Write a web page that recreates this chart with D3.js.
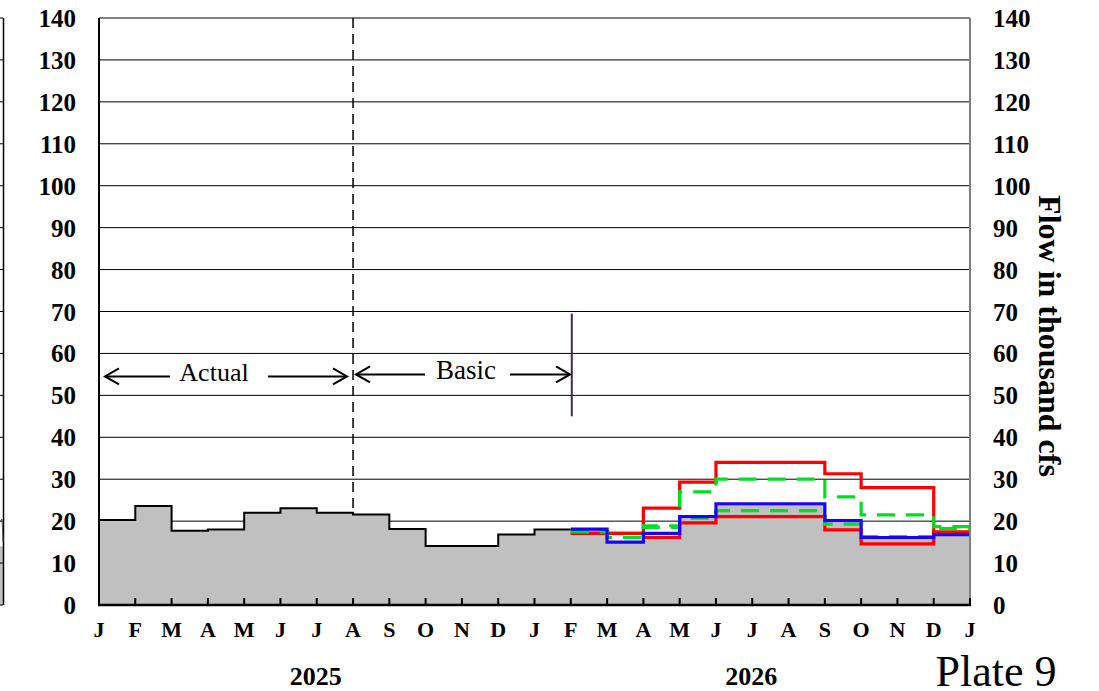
<!DOCTYPE html>
<html>
<head>
<meta charset="utf-8">
<script src="https://cdn.jsdelivr.net/npm/d3@7"></script>
<style>
	body { margin: 0; background: #fff; }
	svg text { font-family: "Liberation Serif", "Times New Roman", serif; }
</style>
</head>
<body>
<div id="chart"></div>
<script>

// month ticks, Jan 2025 .. Jan 2027
var months = ["J","F","M","A","M","J","J","A","S","O","N","D","J","F","M","A","M","J","J","A","S","O","N","D","J"];
var yTicks = [0,10,20,30,40,50,60,70,80,90,100,110,120,130,140];
var years = [{name:"2025", at:6}, {name:"2026", at:18}];

// actual + basic, Jan 2025 .. Jan 2026 (black line)
var actual = [20.3,23.6,17.7,18.0,22.0,23.1,22.0,21.6,18.1,14.1,14.1,16.8,18.0];
// shaded area, Jan 2025 .. Dec 2026
var shaded = [20.3,23.6,17.7,18.0,22.0,23.1,22.0,21.6,18.1,14.1,14.1,16.8,18.0,
	18.0,15.2,16.6,20.6,23.6,23.6,23.6,19.6,16.0,16.0,16.8];
// forecasts, Feb 2026 .. Dec 2026
var redHigh = [17.1,17.1,23.1,29.3,34.0,34.0,34.0,31.3,28.0,28.0,17.4];
var redLow = [17.1,17.1,16.1,19.6,21.1,21.1,21.1,17.9,14.6,14.6,17.4];
var greenHigh = [17.5,16.1,18.5,27.0,30.0,30.0,30.0,25.8,21.5,21.5,18.7];
var greenLow = [17.5,16.1,18.9,20.7,22.5,22.5,22.5,19.3,16.3,16.3,18.2];
var blue = [18.1,15.0,17.1,21.1,24.1,24.1,24.1,20.1,16.1,16.1,16.8];

var w = 1099, h = 691;
var pLeft = 99, pRight = 970, pTop = 18, pBottom = 605;

var svg = d3.select("#chart").append("svg")
	.attr("width", w)
	.attr("height", h);

var x = d3.scaleLinear().domain([0, 24]).range([pLeft, pRight]);
var y = d3.scaleLinear().domain([0, 140]).range([pBottom, pTop]);

// step points, with an extra point so the last month is drawn
function steps(vals, start){
	var pts = vals.map(function(v, i){ return [start + i, v]; });
	pts.push([start + vals.length, vals[vals.length - 1]]);
	return pts;
}

// piece of the neighbouring chart at the left edge
var frag = svg.append("g");
frag.append("rect").attr("x", 0).attr("y", y(14)).attr("width", 3).attr("height", pBottom - y(14)).attr("fill", "#c0c0c0");
frag.append("line").attr("x1", 3.5).attr("x2", 3.5).attr("y1", pTop).attr("y2", pBottom)
	.attr("stroke", "#000").attr("stroke-width", 1.5);
frag.selectAll("line.ft").data(yTicks).enter().append("line").attr("class", "ft")
	.attr("x1", 0).attr("x2", 3).attr("y1", function(d){ return y(d); }).attr("y2", function(d){ return y(d); })
	.attr("stroke", "#000");
frag.append("path").attr("d", "M0," + y(20) + " L2," + y(20.5) + " L3," + y(15))
	.attr("fill", "none").attr("stroke", "#555");

// gridlines
svg.selectAll("line.grid")
	.data(yTicks.filter(function(d){ return d > 0; }))
	.enter()
	.append("line")
	.attr("class", "grid")
	.attr("x1", pLeft).attr("x2", pRight)
	.attr("y1", function(d){ return y(d); })
	.attr("y2", function(d){ return y(d); })
	.attr("stroke", function(d){ return d == 140 ? "#808080" : "#000"; })
	.attr("stroke-width", function(d){ return d == 140 ? 2 : 1; });

// shaded area
svg.append("path")
	.datum(steps(shaded, 0))
	.attr("fill", "#c0c0c0")
	.attr("d", d3.area().curve(d3.curveStepAfter)
		.x(function(d){ return x(d[0]); })
		.y0(pBottom)
		.y1(function(d){ return y(d[1]); }));

var line = d3.line().curve(d3.curveStepAfter)
	.x(function(d){ return x(d[0]); })
	.y(function(d){ return y(d[1]); });

// actual / basic line
svg.append("path")
	.datum(steps(actual, 0))
	.attr("fill", "none")
	.attr("stroke", "#000")
	.attr("stroke-width", 2)
	.attr("d", line);

var series = [
	{vals: redHigh, color: "#ff0000", dash: null},
	{vals: redLow, color: "#ff0000", dash: null},
	{vals: greenHigh, color: "#00e020", dash: "18,11"},
	{vals: greenLow, color: "#00e020", dash: "18,11"},
	{vals: blue, color: "#1a00ff", dash: null}
];

svg.selectAll("path.fc")
	.data(series)
	.enter()
	.append("path")
	.attr("class", "fc")
	.attr("fill", "none")
	.attr("stroke", function(d){ return d.color; })
	.attr("stroke-width", 3.2)
	.attr("stroke-dasharray", function(d){ return d.dash; })
	.attr("d", function(d){ return line(steps(d.vals, 13)); });

// right border
svg.append("line").attr("x1", pRight).attr("x2", pRight).attr("y1", pTop).attr("y2", pBottom)
	.attr("stroke", "#808080").attr("stroke-width", 2);
// left axis
svg.append("line").attr("x1", pLeft).attr("x2", pLeft).attr("y1", pTop).attr("y2", pBottom)
	.attr("stroke", "#000").attr("stroke-width", 2);
// bottom axis with inside ticks
svg.append("line").attr("x1", pLeft - 1).attr("x2", pRight + 1).attr("y1", pBottom).attr("y2", pBottom)
	.attr("stroke", "#000").attr("stroke-width", 2.5);
svg.selectAll("line.xt")
	.data(months)
	.enter()
	.append("line")
	.attr("class", "xt")
	.attr("x1", function(d, i){ return x(i); })
	.attr("x2", function(d, i){ return x(i); })
	.attr("y1", pBottom).attr("y2", pBottom - 7)
	.attr("stroke", "#000").attr("stroke-width", 2);

// divider lines
svg.append("line").attr("x1", x(7)).attr("x2", x(7)).attr("y1", pTop).attr("y2", y(21.9))
	.attr("stroke", "#000").attr("stroke-width", 1.5).attr("stroke-dasharray", "10,6");
svg.append("line").attr("x1", x(13) + 1).attr("x2", x(13) + 1).attr("y1", y(69.5)).attr("y2", y(45))
	.attr("stroke", "#4a2545").attr("stroke-width", 2);

// y tick labels, both sides
svg.selectAll("text.yl")
	.data(yTicks)
	.enter()
	.append("text")
	.attr("class", "yl")
	.attr("x", 76)
	.attr("y", function(d){ return y(d) + 9; })
	.attr("text-anchor", "end")
	.attr("font-size", 25)
	.attr("font-weight", "bold")
	.text(function(d){ return d; });

svg.selectAll("text.yr")
	.data(yTicks)
	.enter()
	.append("text")
	.attr("class", "yr")
	.attr("x", 993)
	.attr("y", function(d){ return y(d) + 9; })
	.attr("text-anchor", "start")
	.attr("font-size", 25)
	.attr("font-weight", "bold")
	.text(function(d){ return d; });

// month labels
svg.selectAll("text.ml")
	.data(months)
	.enter()
	.append("text")
	.attr("class", "ml")
	.attr("x", function(d, i){ return x(i); })
	.attr("y", 637)
	.attr("text-anchor", "middle")
	.attr("font-size", 22)
	.attr("font-weight", "bold")
	.text(function(d){ return d; });

svg.selectAll("text.yr2")
	.data(years)
	.enter()
	.append("text")
	.attr("class", "yr2")
	.attr("x", function(d){ return x(d.at) - 1; })
	.attr("y", 685)
	.attr("text-anchor", "middle")
	.attr("font-size", 26)
	.attr("font-weight", "bold")
	.text(function(d){ return d.name; });

svg.append("text")
	.attr("transform", "translate(1039,336) rotate(90)")
	.attr("text-anchor", "middle")
	.attr("font-size", 32)
	.attr("font-weight", "bold")
	.text("Flow in thousand cfs");

svg.append("text")
	.attr("x", 996).attr("y", 686)
	.attr("text-anchor", "middle")
	.attr("font-size", 44)
	.text("Plate 9");

// period annotations
var arrows = svg.append("g").attr("stroke", "#000").attr("stroke-width", 2).attr("fill", "none");
function arrow(x1, x2, yy){
	var dir = x2 > x1 ? 1 : -1;
	arrows.append("line").attr("x1", x1).attr("x2", x2).attr("y1", yy).attr("y2", yy);
	arrows.append("path").attr("d", "M" + (x2 - dir * 14) + "," + (yy - 8) + " L" + x2 + "," + yy + " L" + (x2 - dir * 14) + "," + (yy + 8));
}
arrow(170, 105, y(54.5));
arrow(268, 347, y(54.5));
arrow(425, 356, y(55));
arrow(510, 570, y(55));

svg.append("text").attr("x", 214).attr("y", 381).attr("text-anchor", "middle")
	.attr("font-size", 26).text("Actual");
svg.append("text").attr("x", 466).attr("y", 379).attr("text-anchor", "middle")
	.attr("font-size", 27).text("Basic");

</script>
</body>
</html>
